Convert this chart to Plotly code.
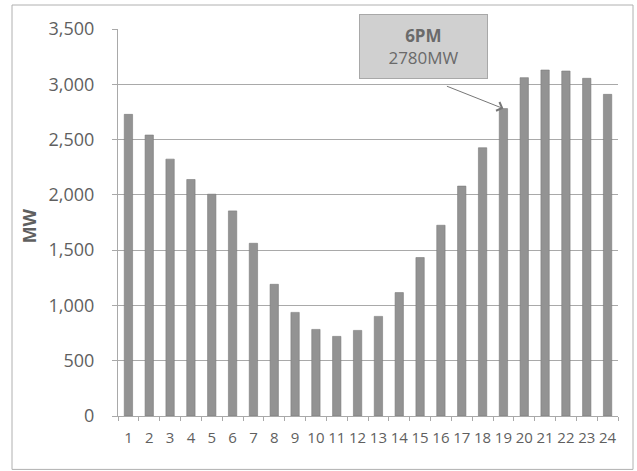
import plotly.graph_objects as go

# Data
hours = [str(h) for h in range(1, 25)]
load_mw = [2728, 2541, 2323, 2139, 2006, 1855, 1562, 1191, 937, 783, 720, 774,
           901, 1116, 1433, 1725, 2079, 2426, 2780, 3060, 3129, 3120, 3054, 2909]
y_ticks = [0, 500, 1000, 1500, 2000, 2500, 3000, 3500]
peak_hour = "19"
peak_value = 2780
peak_text = "<b>6PM</b><br>2780MW"
y_title = "MW"

grey_txt = "#5f5f5f"
grid = "#a9a9a9"
font_family = "Open Sans, Liberation Sans, sans-serif"

fig = go.Figure()
fig.add_trace(go.Bar(
    x=hours, y=load_mw,
    marker=dict(color="#939393", line=dict(color="#7a7a7a", width=0.6)),
    width=0.4,
))

fig.update_layout(
    width=637, height=471,
    margin=dict(l=118, r=19, t=29, b=55),
    paper_bgcolor="white", plot_bgcolor="white",
    showlegend=False,
    font=dict(family=font_family, color=grey_txt),
)

fig.update_xaxes(
    type="category",
    showline=True, linecolor=grid, linewidth=1,
    ticks="outside", tickson="boundaries", ticklen=4, tickcolor=grid,
    tickangle=0, ticklabelstandoff=8,
    tickfont=dict(size=15, color=grey_txt),
    showgrid=False,
)
fig.update_yaxes(
    range=[0, 3500], tickvals=y_ticks, tickformat=",",
    showline=True, linecolor=grid, linewidth=1,
    ticks="outside", ticklen=5, tickcolor=grid,
    ticklabelstandoff=14,
    tickfont=dict(size=18, color=grey_txt),
    showgrid=True, gridcolor=grid, gridwidth=1,
    zeroline=False,
)

# Y-axis title
fig.add_annotation(
    text=f"<b>{y_title}</b>", xref="paper", yref="paper",
    x=-0.178, y=0.49, xanchor="center", yanchor="middle",
    textangle=-90, showarrow=False,
    font=dict(size=18, color=grey_txt),
)

# Callout box
fig.add_annotation(
    text=peak_text, xref="paper", yref="paper",
    x=0.611, y=0.955, xanchor="center", yanchor="middle",
    showarrow=False,
    width=125, height=61,
    bgcolor="#d0d0d0", bordercolor="#a8a8a8", borderwidth=1,
    font=dict(size=17, color="#6a6a6a"),
)
# Arrow to the peak bar (category axis: position by category index)
fig.add_annotation(
    x=hours.index(peak_hour), y=peak_value, xref="x", yref="y",
    text="", showarrow=True,
    ax=-58, ay=-23,
    arrowhead=4, arrowsize=1.8, arrowwidth=1, arrowcolor="#777777",
    standoff=0,
)

# Outer chart border
fig.add_shape(
    type="rect", xref="paper", yref="paper",
    x0=-0.212, x1=1.03, y0=-0.138, y1=1.062,
    line=dict(color="#b0b0b0", width=1),
    fillcolor="rgba(0,0,0,0)", layer="below",
)

fig.write_html("out.html")
